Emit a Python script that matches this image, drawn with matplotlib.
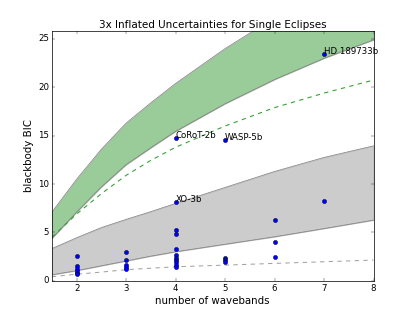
import matplotlib
matplotlib.use('Agg')
import matplotlib.pyplot as plt
import numpy as np

plt.style.use('classic')

# number of wavebands vs blackbody BIC, one dot per planet/eclipse
n_bands = [2, 2, 2, 2, 2, 2,
           3, 3, 3, 3, 3,
           4, 4, 4, 4, 4, 4, 4, 4, 4, 4, 4,
           5, 5, 5, 5,
           6, 6, 6,
           7, 7]
bic = [2.55, 1.5, 1.25, 1.03, 0.83, 0.66,
       2.96, 2.17, 1.62, 1.41, 1.24,
       14.8, 8.1, 5.3, 4.82, 3.27, 2.65, 2.38, 2.14, 1.9, 1.66, 1.45,
       14.55, 2.35, 2.14, 1.97,
       6.24, 4.0, 2.48,
       23.45, 8.3]

# labelled planets
names = ['HD 189733b', 'CoRoT-2b', 'WASP-5b', 'XO-3b']
name_x = [7, 4, 5, 4]
name_y = [23.45, 14.8, 14.55, 8.1]

# threshold curves
curve_x = [1.5, 2, 2.5, 3, 3.5, 4, 5, 6, 7, 8]
grey_lo = [0.62, 1.05, 1.55, 2.05, 2.55, 3.0, 3.78, 4.55, 5.4, 6.27]
grey_hi = [3.33, 4.45, 5.5, 6.35, 7.15, 8.0, 9.65, 11.3, 12.75, 13.95]
grey_mid = [0.42, 0.68, 0.9, 1.15, 1.3, 1.45, 1.62, 1.8, 1.97, 2.14]
green_lo = [4.38, 7.1, 9.7, 12.0, 13.75, 15.45, 18.3, 20.8, 23.0, 24.9]
green_hi = [7.1, 10.5, 13.6, 16.3, 18.4, 20.4, 24.0, 27.2, 29.9, 32.3]
green_mid = [4.5, 6.9, 9.0, 10.9, 12.45, 13.8, 16.0, 17.9, 19.4, 20.75]

fig = plt.figure(figsize=(415 / 52., 6))
ax = fig.add_subplot(111)

ax.fill_between(curve_x, grey_lo, grey_hi, color='gray', alpha=0.4, edgecolor='gray')
ax.plot(curve_x, grey_lo, color='gray', lw=1)
ax.plot(curve_x, grey_hi, color='gray', lw=1)
ax.plot(curve_x, grey_mid, '--', color='#a0a0a0', lw=1.4)

ax.fill_between(curve_x, green_lo, green_hi, color='g', alpha=0.4, edgecolor='gray')
ax.plot(curve_x, green_lo, color='gray', lw=1)
ax.plot(curve_x, green_hi, color='gray', lw=1)
ax.plot(curve_x, green_mid, '--', color='#33a033', lw=1.5)

ax.plot(n_bands, bic, 'bo', markersize=6)
for nm, xx, yy in zip(names, name_x, name_y):
    ax.text(xx, yy, nm)

ax.set_xlim(1.5, 8)
ax.set_ylim(0, 25.8)
ax.set_yticks([0, 5, 10, 15, 20, 25])
ax.set_xlabel('number of wavebands', fontsize=14.2)
ax.set_ylabel('blackbody BIC', fontsize=14.2)
ax.set_title('3x Inflated Uncertainties for Single Eclipses')

plt.savefig('out.png', dpi=52)
plt.close()
